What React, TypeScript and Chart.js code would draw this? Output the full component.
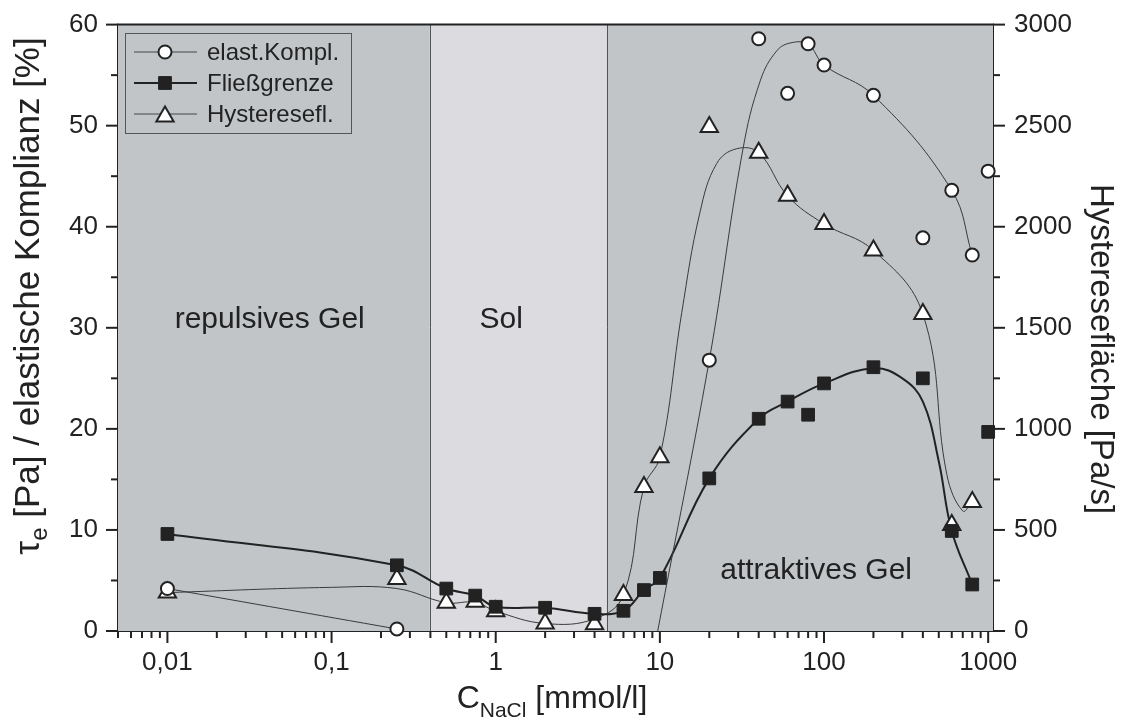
import React, { useEffect, useRef } from 'react';
import { Chart, registerables } from 'chart.js';

Chart.register(...registerables);

// ---------- data ----------
const xTickValues = [0.01, 0.1, 1, 10, 100, 1000];
const xTickLabels = ['0,01', '0,1', '1', '10', '100', '1000'];

// elastische Komplianz [%] (circles, left axis)
const complianceX = [0.01, 0.25, 20, 40, 60, 80, 100, 200, 400, 600, 800, 1000];
const complianceY = [4.2, 0.2, 26.8, 58.6, 53.2, 58.1, 56.0, 53.0, 38.9, 43.6, 37.2, 45.5];
// fitted curve (two pieces)
const complianceCurveAX = [0.01, 0.25];
const complianceCurveAY = [4.2, 0.2];
const complianceCurveBX = [9.7, 20, 32, 41, 51.5, 63, 80, 100, 200, 600, 800];
const complianceCurveBY = [0, 26.8, 47.6, 54.5, 57.4, 58.2, 58.05, 56.0, 53.0, 43.6, 37.2];

// Fließgrenze tau_e [Pa] (squares, left axis)
const yieldX = [0.01, 0.25, 0.5, 0.75, 1, 2, 4, 6, 8, 10, 20, 40, 60, 80, 100, 200, 400, 600, 800, 1000];
const yieldY = [9.6, 6.5, 4.2, 3.5, 2.4, 2.3, 1.7, 2.0, 4.05, 5.25, 15.1, 21.0, 22.7, 21.4, 24.5, 26.1, 25.0, 9.9, 4.6, 19.7];
const yieldCurveX = [0.01, 0.25, 0.5, 0.75, 1, 2, 4, 6, 8, 10, 20, 40, 60, 100, 200, 300, 400, 500, 600, 800];
const yieldCurveY = [9.6, 6.5, 4.2, 3.5, 2.4, 2.3, 1.7, 2.0, 4.05, 5.25, 15.1, 21.0, 22.7, 24.5, 26.0, 25.0, 22.7, 16.8, 9.9, 4.6];

// Hysteresefläche [Pa/s] (triangles, right axis)
const hystX = [0.01, 0.25, 0.5, 0.75, 1, 2, 4, 6, 8, 10, 20, 40, 60, 100, 200, 400, 600, 800];
const hystY = [190, 257, 140, 145, 98, 37, 33, 178, 713, 860, 2493, 2366, 2153, 2014, 1883, 1568, 525, 638];
const hystCurveX = [0.01, 0.1, 0.25, 0.5, 0.75, 1, 2, 4, 6, 8, 10, 13.6, 17.5, 22.2, 29.4, 40, 60, 100, 200, 400, 560, 700, 800];
const hystCurveY = [190, 216, 210, 140, 142, 98, 37, 60, 178, 713, 860, 1576, 2067, 2313, 2386, 2366, 2153, 2014, 1883, 1568, 774, 594, 638];

// region boundaries on the concentration axis [mmol/l]
const regionBounds = [0.396, 4.75];
const regionNames = ['repulsives Gel', 'Sol', 'attraktives Gel'];

const legendNames = ['elast.Kompl.', 'Fließgrenze', 'Hysteresefl.'];

// ---------- style ----------
const FONT = '"Liberation Sans", Arial, Helvetica, sans-serif';
const INK = '#222222';
const GEL_BG = '#c1c5c8';
const SOL_BG = '#dcdce0';

const pts = (xs: number[], ys: number[]) => xs.map((x, i) => ({ x, y: ys[i] }));

function drawMarker(ctx: CanvasRenderingContext2D, kind: string, x: number, y: number) {
  ctx.save();
  ctx.lineWidth = 2;
  ctx.strokeStyle = INK;
  if (kind === 'circle') {
    ctx.beginPath();
    ctx.arc(x, y, 6.5, 0, Math.PI * 2);
    ctx.fillStyle = '#ffffff';
    ctx.fill();
    ctx.stroke();
  } else if (kind === 'rect') {
    ctx.fillStyle = INK;
    ctx.lineWidth = 1;
    ctx.beginPath();
    ctx.rect(x - 6.4, y - 6.4, 12.8, 12.8);
    ctx.fill();
    ctx.stroke();
  } else {
    const r = 10;
    const s = Math.sin(Math.PI / 3) * r;
    ctx.beginPath();
    ctx.moveTo(x, y - r);
    ctx.lineTo(x + s, y + r / 2);
    ctx.lineTo(x - s, y + r / 2);
    ctx.closePath();
    ctx.fillStyle = '#ffffff';
    ctx.fill();
    ctx.stroke();
  }
  ctx.restore();
}

function line(ctx: CanvasRenderingContext2D, x1: number, y1: number, x2: number, y2: number) {
  ctx.beginPath();
  ctx.moveTo(x1, y1);
  ctx.lineTo(x2, y2);
  ctx.stroke();
}

function drawSubText(
  ctx: CanvasRenderingContext2D,
  parts: { t: string; size: number; dy: number }[],
  cx: number,
  baseY: number
) {
  let total = 0;
  const widths = parts.map((p) => {
    ctx.font = `${p.size}px ${FONT}`;
    const w = ctx.measureText(p.t).width;
    total += w;
    return w;
  });
  let x = cx - total / 2;
  ctx.textAlign = 'left';
  ctx.textBaseline = 'alphabetic';
  parts.forEach((p, i) => {
    ctx.font = `${p.size}px ${FONT}`;
    ctx.fillText(p.t, x, baseY + p.dy);
    x += widths[i];
  });
}

const decorPlugin = {
  id: 'decor',
  beforeDatasetsDraw(chart: any) {
    const { ctx, chartArea: a, scales } = chart;
    const xs = scales.x;
    const ys = scales.y;
    ctx.save();
    ctx.fillStyle = GEL_BG;
    ctx.fillRect(a.left, a.top, a.right - a.left, a.bottom - a.top);
    const x1 = xs.getPixelForValue(regionBounds[0]);
    const x2 = xs.getPixelForValue(regionBounds[1]);
    ctx.fillStyle = SOL_BG;
    ctx.fillRect(x1, a.top, x2 - x1, a.bottom - a.top);
    ctx.strokeStyle = '#555555';
    ctx.lineWidth = 1;
    [x1, x2].forEach((px) => line(ctx, Math.round(px) + 0.5, a.top, Math.round(px) + 0.5, a.bottom));

    ctx.fillStyle = INK;
    ctx.font = `30px ${FONT}`;
    ctx.textAlign = 'center';
    ctx.textBaseline = 'alphabetic';
    const spots = [
      [0.042, 30],
      [1.08, 30],
      [89.5, 5.1],
    ];
    regionNames.forEach((n, i) => {
      ctx.fillText(n, xs.getPixelForValue(spots[i][0]), ys.getPixelForValue(spots[i][1]));
    });
    ctx.restore();
  },
  afterDatasetsDraw(chart: any) {
    const { ctx, chartArea: a, scales } = chart;
    const xs = scales.x;
    const ys = scales.y;
    const ys2 = scales.y2;
    ctx.save();
    ctx.strokeStyle = INK;
    ctx.lineWidth = 2;
    for (let e = -3; e <= 3; e++) {
      for (let m = 1; m <= 9; m++) {
        const v = m * Math.pow(10, e);
        if (v < xs.min || v > xs.max) continue;
        const px = xs.getPixelForValue(v);
        line(ctx, px, a.bottom, px, a.bottom + (m === 1 ? 12 : 7));
      }
    }
    for (let v = 0; v <= 60; v += 5) {
      const py = ys.getPixelForValue(v);
      line(ctx, a.left - (v % 10 === 0 ? 12 : 7), py, a.left, py);
    }
    for (let v = 0; v <= 3000; v += 250) {
      const py = ys2.getPixelForValue(v);
      line(ctx, a.right, py, a.right + (v % 500 === 0 ? 12 : 7), py);
    }
    line(ctx, a.left - 1, a.top, a.right + 1, a.top);

    // legend
    const bx = 125, by = 33, bw = 226, bh = 100;
    ctx.lineWidth = 1;
    ctx.strokeStyle = '#555555';
    ctx.strokeRect(bx + 0.5, by + 0.5, bw, bh);
    const rows = [52, 83, 114];
    const kinds = ['circle', 'rect', 'triangle'];
    rows.forEach((ry, i) => {
      ctx.strokeStyle = i === 1 ? INK : '#444444';
      ctx.lineWidth = i === 1 ? 2 : 1;
      line(ctx, 134, ry, 197, ry);
      drawMarker(ctx, kinds[i], 165, i === 2 ? ry + 2.5 : ry);
      ctx.fillStyle = INK;
      ctx.font = `24px ${FONT}`;
      ctx.textAlign = 'left';
      ctx.textBaseline = 'middle';
      ctx.fillText(legendNames[i], 207, ry + 1);
    });

    ctx.fillStyle = INK;
    drawSubText(
      ctx,
      [
        { t: 'C', size: 32, dy: 0 },
        { t: 'NaCl', size: 21, dy: 9 },
        { t: ' [mmol/l]', size: 32, dy: 0 },
      ],
      552,
      708
    );
    ctx.save();
    ctx.translate(30, 296);
    ctx.rotate(-Math.PI / 2);
    drawSubText(
      ctx,
      [
        { t: 'τ', size: 35, dy: 0 },
        { t: 'e', size: 24, dy: 8 },
        { t: ' [Pa] / elastische Komplianz [%]', size: 35, dy: 0 },
      ],
      0,
      9
    );
    ctx.restore();
    ctx.save();
    ctx.translate(1101, 349);
    ctx.rotate(Math.PI / 2);
    drawSubText(ctx, [{ t: 'Hysteresefläche [Pa/s]', size: 33, dy: 0 }], 0, 10);
    ctx.restore();

    ctx.restore();
  },
};

export default function App() {
  const ref = useRef<HTMLCanvasElement | null>(null);

  useEffect(() => {
    document.body.style.margin = '0';
    const canvas = ref.current;
    if (!canvas) return;

    const markerBase = {
      showLine: false,
      pointBorderColor: INK,
      pointBorderWidth: 2,
      pointHoverRadius: 0,
      clip: false as any,
      order: 0,
    };
    const curveBase = {
      showLine: true,
      pointRadius: 0,
      pointHoverRadius: 0,
      borderColor: '#3a3a3a',
      borderWidth: 1,
      tension: 0.4,
      fill: false,
      order: 1,
    };

    const numLabel = (v: any) => String(v);

    const chart = new Chart(canvas, {
      type: 'line',
      data: {
        datasets: [
          {
            ...markerBase,
            label: legendNames[0],
            data: pts(complianceX, complianceY),
            pointStyle: 'circle',
            pointRadius: 6.5,
            pointBackgroundColor: '#ffffff',
            yAxisID: 'y',
          },
          {
            ...markerBase,
            label: legendNames[1],
            data: pts(yieldX, yieldY),
            pointStyle: 'rect',
            pointRadius: 9,
            pointBorderWidth: 1,
            pointBackgroundColor: INK,
            yAxisID: 'y',
          },
          {
            ...markerBase,
            label: legendNames[2],
            data: pts(hystX, hystY),
            pointStyle: 'triangle',
            pointRadius: 10,
            pointBackgroundColor: '#ffffff',
            yAxisID: 'y2',
          },
          { ...curveBase, label: 'c1', data: pts(complianceCurveAX, complianceCurveAY), yAxisID: 'y' },
          { ...curveBase, label: 'c2', data: pts(complianceCurveBX, complianceCurveBY), yAxisID: 'y' },
          {
            ...curveBase,
            label: 'c3',
            data: pts(yieldCurveX, yieldCurveY),
            yAxisID: 'y',
            borderColor: INK,
            borderWidth: 2,
          },
          { ...curveBase, label: 'c4', data: pts(hystCurveX, hystCurveY), yAxisID: 'y2' },
        ] as any,
      },
      options: {
        animation: false,
        responsive: false,
        events: [],
        layout: { padding: { top: 21, left: 0, right: 0, bottom: 0 } },
        plugins: {
          legend: { display: false },
          tooltip: { enabled: false },
          title: { display: false },
        },
        scales: {
          x: {
            type: 'logarithmic',
            min: 0.005,
            max: 1070,
            afterBuildTicks: (scale: any) => {
              scale.ticks = xTickValues.map((v) => ({ value: v, major: true }));
            },
            afterFit: (scale: any) => {
              scale.height = 89;
            },
            ticks: {
              autoSkip: false,
              maxRotation: 0,
              padding: 6,
              color: INK,
              font: { family: FONT, size: 26 },
              callback: (_v: any, i: number) => xTickLabels[i],
            },
            grid: { display: true, drawOnChartArea: false, drawTicks: true, tickLength: 10, color: 'rgba(0,0,0,0)' },
            border: { display: true, color: INK, width: 2 },
          },
          y: {
            type: 'linear',
            position: 'left',
            min: 0,
            max: 60,
            afterFit: (scale: any) => {
              scale.width = 118;
            },
            ticks: {
              stepSize: 10,
              padding: 8,
              color: INK,
              font: { family: FONT, size: 26 },
              callback: numLabel,
            },
            grid: { display: true, drawOnChartArea: false, drawTicks: true, tickLength: 12, color: 'rgba(0,0,0,0)' },
            border: { display: true, color: INK, width: 2 },
          },
          y2: {
            type: 'linear',
            position: 'right',
            min: 0,
            max: 3000,
            afterFit: (scale: any) => {
              scale.width = 137;
            },
            ticks: {
              stepSize: 500,
              padding: 9,
              color: INK,
              font: { family: FONT, size: 26 },
              callback: numLabel,
            },
            grid: { display: true, drawOnChartArea: false, drawTicks: true, tickLength: 12, color: 'rgba(0,0,0,0)' },
            border: { display: true, color: INK, width: 2 },
          },
        },
      } as any,
      plugins: [decorPlugin],
    });

    return () => chart.destroy();
  }, []);

  return (
    <div style={{ width: 1130, height: 720, position: 'relative' }}>
      <canvas ref={ref} width={1130} height={720} style={{ display: 'block' }} />
    </div>
  );
}
